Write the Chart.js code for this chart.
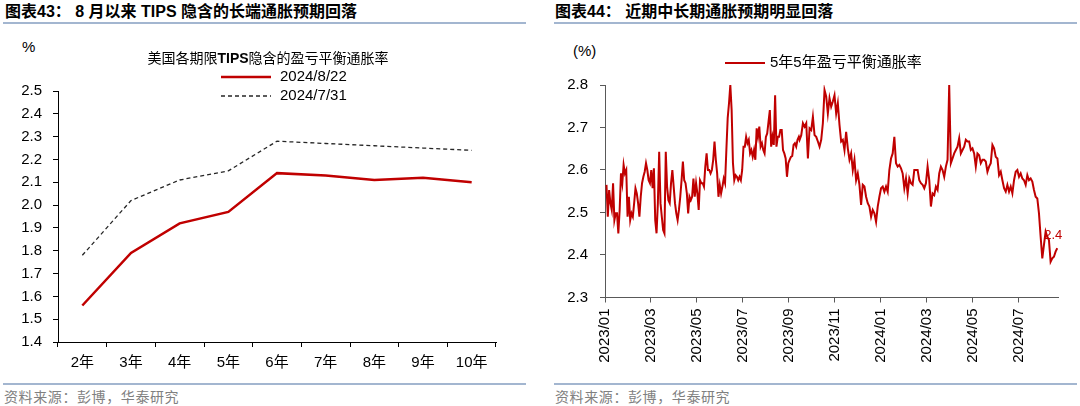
<!DOCTYPE html>
<html>
<head>
<meta charset="utf-8">
<script src="https://cdn.jsdelivr.net/npm/chart.js@4.4.1/dist/chart.umd.min.js"></script>
<style>
  body { margin: 0; width: 1080px; height: 406px; background: #fff; position: relative; overflow: hidden;
         font-family: "Liberation Sans", Arial, "Noto Sans CJK SC", sans-serif; }
  .ttl { position: absolute; top: 2px; font-size: 16px; line-height: 20px; font-weight: bold; color: #000; white-space: pre; }
  .rule { position: absolute; height: 2px; background: #a3b6d0; }
  .src { position: absolute; top: 388px; font-size: 14px; line-height: 16px; color: #808080; letter-spacing: 0.6px; font-family: "Noto Sans CJK SC", sans-serif; }
  .unit { position: absolute; font-size: 15px; line-height: 18px; color: #000; }
  canvas { position: absolute; top: 0; }
</style>
</head>
<body>
<div class="ttl" style="left:5px">图表43： 8 月以来 TIPS 隐含的长端通胀预期回落</div>
<div class="ttl" style="left:555px">图表44： 近期中长期通胀预期明显回落</div>
<div class="rule" style="left:3px; width:523px; top:22px"></div>
<div class="rule" style="left:554px; width:523px; top:22px"></div>
<div class="rule" style="left:3px; width:523px; top:383px"></div>
<div class="rule" style="left:554px; width:523px; top:383px"></div>
<div class="src" style="left:4px">资料来源：彭博，华泰研究</div>
<div class="src" style="left:555px">资料来源：彭博，华泰研究</div>
<div class="unit" style="left:22px; top:38px">%</div>
<div class="unit" style="left:573px; top:42px">(%)</div>

<canvas id="left" width="540" height="406" style="left:0"></canvas>
<canvas id="right" width="540" height="406" style="left:540px"></canvas>

<script>
// ---- left chart: TIPS breakeven curve ----
const tenors = ['2年', '3年', '4年', '5年', '6年', '7年', '8年', '9年', '10年'];
const bei0822 = [1.56, 1.79, 1.92, 1.97, 2.14, 2.13, 2.11, 2.12, 2.10];
const bei0731 = [1.78, 2.02, 2.11, 2.15, 2.28, 2.27, 2.26, 2.25, 2.24];

// ---- right chart: 5y5y breakeven, daily ----
const monthLabels = ['2023/01', '2023/03', '2023/05', '2023/07', '2023/09',
                     '2023/11', '2024/01', '2024/03', '2024/05', '2024/07'];
// 2023-01-03 .. 2023-09-14
const spanA = ['2023-01-03', '2023-09-14'];
const bei5y5yA = [
  2.565, 2.490, 2.553, 2.522, 2.506, 2.569, 2.482, 2.498, 2.498, 2.451, 2.506, 2.592, 2.569, 2.612,
  2.592, 2.600, 2.490, 2.537, 2.482, 2.498, 2.490, 2.522, 2.557, 2.545, 2.522, 2.490, 2.537, 2.569,
  2.584, 2.596, 2.616, 2.600, 2.576, 2.569, 2.600, 2.557, 2.604,
  2.482, 2.451, 2.522, 2.643, 2.522, 2.490, 2.459, 2.451, 2.643, 2.561, 2.529, 2.522, 2.569, 2.600,
  2.561, 2.522, 2.498, 2.482, 2.506, 2.537, 2.576, 2.620, 2.576, 2.569, 2.545, 2.498, 2.537, 2.529,
  2.537, 2.580, 2.537, 2.569, 2.545, 2.506, 2.576, 2.569, 2.569, 2.561, 2.608, 2.639, 2.600, 2.600,
  2.592, 2.600, 2.624, 2.667, 2.624, 2.592, 2.537, 2.565, 2.545, 2.561, 2.580, 2.569, 2.647, 2.722,
  2.757, 2.800, 2.741, 2.616, 2.576, 2.588, 2.584, 2.576, 2.584, 2.576, 2.600, 2.655, 2.655, 2.678,
  2.663, 2.671, 2.639, 2.647, 2.631, 2.647, 2.624, 2.698, 2.678, 2.702, 2.655, 2.663, 2.647, 2.639,
  2.678, 2.686, 2.714, 2.741, 2.655, 2.678, 2.659, 2.776, 2.655, 2.678, 2.678, 2.694, 2.694, 2.647,
  2.639, 2.627, 2.584, 2.616, 2.624, 2.631, 2.633, 2.659, 2.663, 2.655, 2.671, 2.678
];
// 2023-09-15 .. 2024-08-22
const spanB = ['2023-09-15', '2024-08-22'];
const bei5y5yB = [
  2.671, 2.682, 2.710, 2.702, 2.710, 2.627, 2.698, 2.694, 2.725, 2.682, 2.678, 2.667, 2.655, 2.671,
  2.710, 2.788, 2.773, 2.733, 2.769, 2.749, 2.761, 2.776, 2.733, 2.757, 2.706, 2.667, 2.671, 2.647,
  2.690, 2.651, 2.624, 2.639, 2.600, 2.624, 2.576, 2.592, 2.565, 2.518, 2.565, 2.561, 2.537, 2.522,
  2.514, 2.490, 2.506, 2.498, 2.478, 2.514, 2.537, 2.557, 2.561, 2.549, 2.561, 2.549, 2.600, 2.627,
  2.639, 2.678, 2.616, 2.608, 2.612, 2.604, 2.592, 2.557, 2.580, 2.545, 2.580, 2.569, 2.565, 2.600,
  2.600, 2.600, 2.576, 2.569, 2.565, 2.557, 2.569, 2.608, 2.576, 2.514, 2.545, 2.541, 2.561, 2.553,
  2.592, 2.608, 2.600, 2.584, 2.608, 2.624, 2.800, 2.616, 2.627, 2.639, 2.647, 2.655, 2.675, 2.639,
  2.647, 2.655, 2.671, 2.667, 2.667, 2.647, 2.651, 2.639, 2.608, 2.639, 2.635, 2.616, 2.624, 2.624,
  2.620, 2.596, 2.608, 2.616, 2.659, 2.651, 2.631, 2.627, 2.588, 2.596, 2.576, 2.557, 2.549, 2.565,
  2.549, 2.561, 2.545, 2.576, 2.596, 2.600, 2.584, 2.592, 2.580, 2.576, 2.565, 2.588, 2.576, 2.580,
  2.573, 2.553, 2.537, 2.533, 2.498, 2.443, 2.392, 2.424, 2.455, 2.443, 2.435, 2.384, 2.392, 2.396,
  2.408, 2.416
];
const axisEnd = '2024-08-23';

const RED = '#C00000';
const FONT = '"Liberation Sans", Arial, "Noto Sans CJK SC", sans-serif';
Chart.defaults.font.family = FONT;
Chart.defaults.color = '#000';

// fractional months since 2023-01-01
function monthPos(s) {
    const [y, m, d] = s.split('-').map(Number);
    const dim = new Date(y, m, 0).getDate();
    return (y - 2023) * 12 + (m - 1) + (d - 1) / dim;
}
function spread(vals, span) {
    const a = monthPos(span[0]), b = monthPos(span[1]);
    return vals.map((v, i) => ({ x: a + (b - a) * i / (vals.length - 1), y: v }));
}

// draws line+label legend rows at fixed spots
function lineLegend(opts) {
    return {
        id: 'lineLegend',
        afterDraw(chart) {
            const ctx = chart.ctx;
            ctx.save();
            if (opts.title) {
                let x = opts.titleX - opts.title.reduce((w, p) => {
                    ctx.font = (p[1] ? 'bold ' : '') + '14px ' + FONT;
                    return w + ctx.measureText(p[0]).width;
                }, 0) / 2;
                ctx.textBaseline = 'middle';
                ctx.fillStyle = '#000';
                opts.title.forEach(p => {
                    ctx.font = (p[1] ? 'bold ' : '') + '14px ' + FONT;
                    ctx.fillText(p[0], x, opts.titleY);
                    x += ctx.measureText(p[0]).width;
                });
            }
            chart.data.datasets.forEach((ds, i) => {
                const y = opts.y + i * opts.row;
                ctx.strokeStyle = ds.borderColor;
                ctx.lineWidth = ds.borderWidth;
                ctx.setLineDash(ds.borderDash || []);
                ctx.beginPath();
                ctx.moveTo(opts.x0, y);
                ctx.lineTo(opts.x1, y);
                ctx.stroke();
                ctx.setLineDash([]);
                ctx.fillStyle = '#000';
                ctx.font = '15px ' + FONT;
                ctx.textBaseline = 'middle';
                ctx.fillText(ds.label, opts.tx, y);
            });
            ctx.restore();
        }
    };
}

new Chart(document.getElementById('left'), {
    type: 'line',
    data: {
        labels: tenors,
        datasets: [
            { label: '2024/8/22', data: bei0822, borderColor: RED, borderWidth: 2.5, pointRadius: 0, tension: 0 },
            { label: '2024/7/31', data: bei0731, borderColor: '#262626', borderWidth: 1.3, borderDash: [4, 3], pointRadius: 0, tension: 0 }
        ]
    },
    options: {
        responsive: false, animation: false, devicePixelRatio: 1,
        layout: { padding: { left: 0, top: 91, right: 44, bottom: 34 } },
        plugins: { legend: { display: false }, tooltip: { enabled: false } },
        scales: {
            x: {
                offset: true,
                grid: { offset: true, drawOnChartArea: false, tickLength: 5, color: '#000' },
                border: { color: '#000' },
                ticks: { font: { size: 15 }, padding: 7, maxRotation: 0 },
                afterFit: s => { s.height = 30; }
            },
            y: {
                min: 1.4, max: 2.5,
                grid: { drawOnChartArea: false, tickLength: 5, color: '#000' },
                border: { color: '#000' },
                ticks: { stepSize: 0.1, font: { size: 15 }, padding: 11, callback: v => v.toFixed(1) },
                afterFit: s => { s.width = 58; }
            }
        }
    },
    plugins: [lineLegend({
        title: [['美国各期限', false], ['TIPS', true], ['隐含的盈亏平衡通胀率', false]],
        titleX: 268, titleY: 59,
        x0: 221, x1: 271, tx: 280, y: 77, row: 19
    })]
});

const endLabel = {
    id: 'endLabel',
    afterDatasetsDraw(chart) {
        const meta = chart.getDatasetMeta(0);
        const pt = meta.data[meta.data.length - 1];
        const v = chart.data.datasets[0].data[meta.data.length - 1].y;
        const ctx = chart.ctx;
        ctx.save();
        ctx.fillStyle = RED;
        ctx.font = '13px ' + FONT;
        ctx.textAlign = 'center';
        ctx.textBaseline = 'middle';
        ctx.fillText(v.toFixed(1), pt.x - 4, pt.y - 13);
        ctx.restore();
    }
};

new Chart(document.getElementById('right'), {
    type: 'line',
    data: {
        datasets: [{
            label: '5年5年盈亏平衡通胀率',
            data: spread(bei5y5yA, spanA).concat(spread(bei5y5yB, spanB)),
            borderColor: RED, borderWidth: 2, pointRadius: 0, tension: 0
        }]
    },
    options: {
        responsive: false, animation: false, devicePixelRatio: 1,
        layout: { padding: { left: 0, top: 85, right: 22, bottom: 38.5 } },
        plugins: { legend: { display: false }, tooltip: { enabled: false } },
        scales: {
            x: {
                type: 'linear', min: 0, max: monthPos(axisEnd),
                grid: { drawOnChartArea: false, tickLength: 5, color: '#595959' },
                border: { color: '#595959' },
                afterBuildTicks: s => { s.ticks = monthLabels.map((l, i) => ({ value: i * 2 })); },
                ticks: { font: { size: 15 }, padding: 6, minRotation: 90, maxRotation: 90, autoSkip: false,
                         callback: v => monthLabels[Math.round(v / 2)] },
                afterFit: s => { s.height = 70; }
            },
            y: {
                min: 2.3, max: 2.8,
                grid: { drawOnChartArea: false, tickLength: 5, color: '#595959' },
                border: { color: '#595959' },
                ticks: { stepSize: 0.1, font: { size: 15 }, padding: 12, callback: v => v.toFixed(1) },
                afterFit: s => { s.width = 65; }
            }
        }
    },
    plugins: [endLabel, lineLegend({ x0: 185, x1: 225, tx: 230, y: 63, row: 19 })]
});
</script>
</body>
</html>
